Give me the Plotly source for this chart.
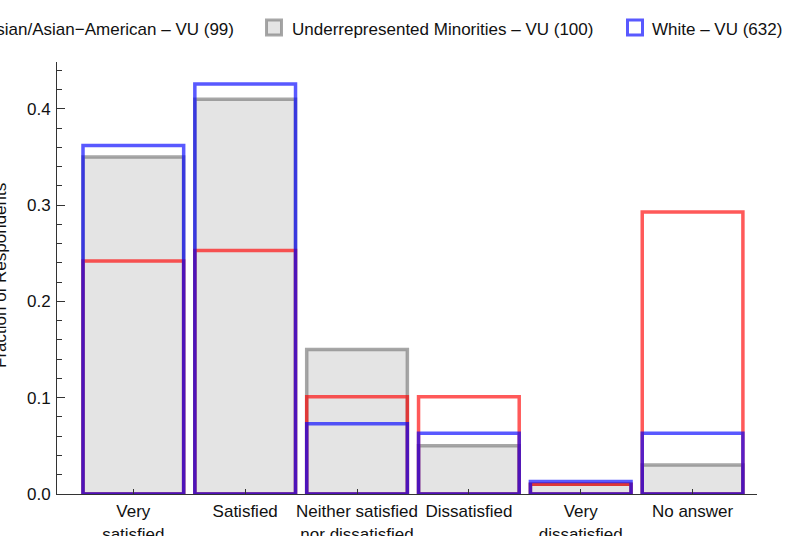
import plotly.graph_objects as go

# survey answers and fractions of respondents per group
categories = ["Very<br>satisfied", "Satisfied", "Neither satisfied<br>nor dissatisfied",
              "Dissatisfied", "Very<br>dissatisfied", "No answer"]
asian = [0.242, 0.253, 0.101, 0.101, 0.010, 0.293]
urm = [0.35, 0.41, 0.15, 0.05, 0.01, 0.03]
white = [0.362, 0.426, 0.073, 0.063, 0.013, 0.063]
names = ["Asian/Asian\u2212American \u2013 VU (99)",
         "Underrepresented Minorities \u2013 VU (100)",
         "White \u2013 VU (632)"]

font = dict(family="Arial, Liberation Sans, sans-serif", size=17, color="#111")

fig = go.Figure()
fig.add_trace(go.Bar(x=categories, y=urm, name=names[1], width=0.9,
                     marker=dict(color="rgb(228,228,228)",
                                 line=dict(color="rgba(120,120,120,0.65)", width=3.5))))
fig.add_trace(go.Bar(x=categories, y=asian, name=names[0], width=0.9,
                     marker=dict(color="rgba(0,0,0,0)",
                                 line=dict(color="rgba(255,0,0,0.65)", width=3.5))))
fig.add_trace(go.Bar(x=categories, y=white, name=names[2], width=0.9,
                     marker=dict(color="rgba(0,0,0,0)",
                                 line=dict(color="rgba(0,0,255,0.65)", width=3.5))))

# hand made legend along the top (picture is cropped on the left)
W, H, L, T = 700, 432, 57, 62
def px(x): return (x - L) / W
def py(y): return (T + H - y) / H
legend = [("rgba(0,0,0,0)", "rgba(255,0,0,0.65)", -41, names[0], "right", 236),
          ("rgb(228,228,228)", "rgba(120,120,120,0.65)", 265, names[1], "left", 290),
          ("white", "rgba(0,0,255,0.65)", 626, names[2], "left", 650)]
shapes, annots = [], []
for fill, edge, x0, txt, anc, tx in legend:
    shapes.append(dict(type="rect", xref="paper", yref="paper",
                       x0=px(x0 + 1.5), x1=px(x0 + 16.5), y0=py(35), y1=py(20),
                       fillcolor=fill, line=dict(color=edge, width=3)))
    annots.append(dict(text=txt, xref="paper", yref="paper", x=px(tx), y=py(30),
                       xanchor=anc, yanchor="middle", showarrow=False, font=font))
# y axis title, partly cut by the left edge like in the original
annots.append(dict(text="Fraction of Respondents", xref="paper", yref="paper",
                   x=px(0), y=py(276), textangle=-90, xanchor="center",
                   yanchor="middle", showarrow=False, font=font))

fig.update_layout(
    width=785, height=536, barmode="overlay", showlegend=False,
    plot_bgcolor="white", paper_bgcolor="white", font=font,
    margin=dict(l=L, r=785 - L - W, t=T, b=536 - T - H, autoexpand=False),
    shapes=shapes, annotations=annots,
    xaxis=dict(range=[-0.6825, 5.576], showline=True, linecolor="#333", linewidth=1,
               ticks="inside", ticklen=5, tickcolor="#333", showgrid=False,
               tickfont=font, ticklabelstandoff=2, automargin=False),
    yaxis=dict(range=[0, 0.4488], showline=True, linecolor="#333", linewidth=1,
               ticks="inside", ticklen=8, tickcolor="#333", dtick=0.1,
               tickformat=".1f", showgrid=False, zeroline=False, tickfont=font,
               ticklabelstandoff=2,
               minor=dict(dtick=0.02, ticks="inside", ticklen=5, tickcolor="#333"),
               automargin=False),
)
fig.write_html("out.html", config={"displayModeBar": False},
               post_script="document.body.style.margin='0';")
